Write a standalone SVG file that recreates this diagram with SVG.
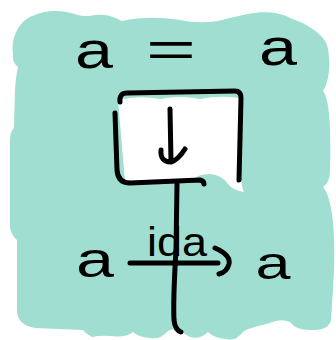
<svg xmlns="http://www.w3.org/2000/svg" width="336" height="340" viewBox="0 0 336 340">
  <style>
    .ink { fill: none; stroke: #000; stroke-width: 5; stroke-linecap: round; stroke-linejoin: round; }
    .lbl { font-family: "Liberation Sans", Arial, sans-serif; fill: #000; text-anchor: middle; }
  </style>
  <g id="background">
    <path fill="#9FDED0" d="M 13,55 C 10,35 22,18 35,15 C 45,10 62,10 75,14 C 82,17 88,16 97,15 C 108,14 115,18 122,21 C 140,17 160,17 180,20 C 195,23 210,23 222,20 C 232,17 240,16 248,14 C 262,11 280,12 290,18 C 308,24 324,35 327,45 C 331,60 330,80 323,91 C 330,100 331,130 330,170 C 330,180 327,184 323,187 C 334,200 335,240 334,270 C 333,290 332,305 331,320 Q 329,331 309,330 Q 296,330 290,322 Q 280,318 270,323 Q 258,326 248,329 Q 244,331 243,332 Q 235,342 226,339 Q 214,338 208,332 Q 200,340 190,337 Q 184,334 180,330 Q 172,328 168,331 Q 160,340 150,338 Q 138,337 133,332 Q 125,338 112,336 Q 100,335 92,337 Q 85,333 83,330 L 35,328 Q 17,325 17,310 L 17,240 Q 12,236 10,228 L 10,140 Q 10,132 14,128 L 15,90 Q 16,75 18,67 Q 12,62 13,55 Z"/>
  </g>
  <g id="equation">
    <text class="lbl" x="94" y="68" font-size="52" textLength="38" lengthAdjust="spacingAndGlyphs">a</text>
    <text class="lbl" x="171" y="66" font-size="50" textLength="50" lengthAdjust="spacingAndGlyphs">=</text>
    <text class="lbl" x="278" y="65" font-size="52" textLength="38" lengthAdjust="spacingAndGlyphs">a</text>
  </g>
  <g id="box">
    <path fill="#FFFFFF" d="M 118,100 Q 140,95 160,99 Q 180,95 200,99 Q 220,95 239,98 L 241,180 Q 242,188 244,192 Q 232,190 228,184 Q 222,175 210,174 Q 198,174 192,180 L 125,182 Z"/>
    <path class="ink" d="M 120,102 Q 119,93 127,93 L 235,91 Q 241,91 241,98 L 239,180"/>
    <path class="ink" d="M 115,113 L 117,170 Q 118,183 130,183 L 200,180 Q 204,181 204,184"/>
    <path class="ink" d="M 170,109 L 171,161 M 161,150 Q 160,162 171,162 Q 178,160 185,149"/>
  </g>
  <g id="connectors">
    <path class="ink" d="M 177,184 L 176,250 Q 173,300 174,320 Q 175,330 181,332"/>
    <path class="ink" d="M 130,263 L 218,263 M 215,248 Q 231,255 229,264 Q 227,272 219,274"/>
  </g>
  <g id="node-a-left">
    <text class="lbl" x="95" y="277" font-size="50" textLength="38" lengthAdjust="spacingAndGlyphs">a</text>
  </g>
  <g id="node-a-right">
    <text class="lbl" x="273" y="279" font-size="46" textLength="35" lengthAdjust="spacingAndGlyphs">a</text>
  </g>
  <g id="label-ida">
    <text class="lbl" x="177" y="256" font-size="40" textLength="60" lengthAdjust="spacingAndGlyphs">ida</text>
  </g>
</svg>
